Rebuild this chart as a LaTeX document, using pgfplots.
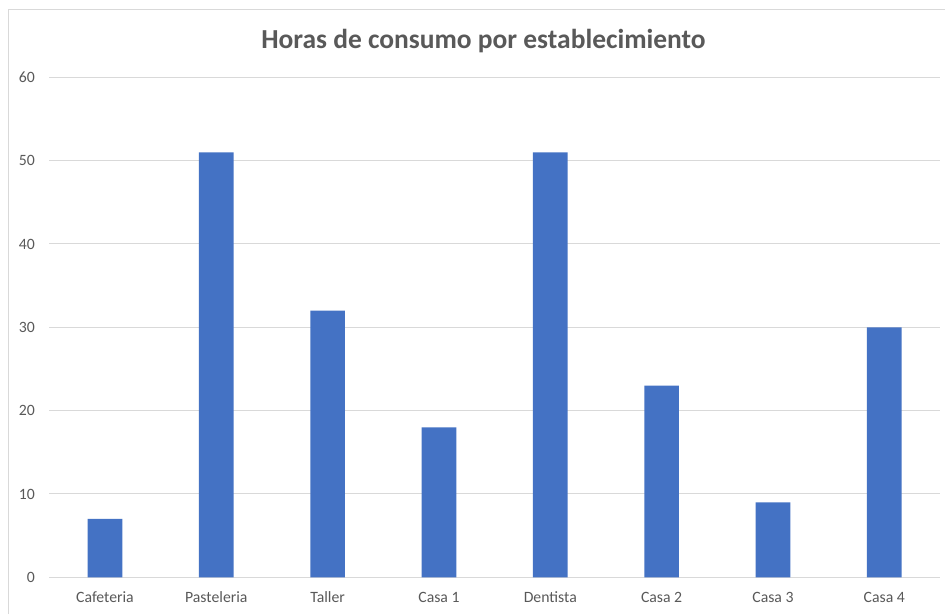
\documentclass[border=0pt]{standalone}
\usepackage{pgfplots}
\pgfplotsset{compat=1.18}
\usepackage{fontspec}
\setmainfont{Carlito}
\definecolor{barblue}{HTML}{4472C4}
\definecolor{txtgray}{HTML}{595959}
\definecolor{gridgray}{HTML}{D9D9D9}
\begin{document}
\begin{tikzpicture}
\path[use as bounding box] (0,0) rectangle (708.75pt,460.5pt);
\fill[white] (0,0) rectangle (708.75pt,460.5pt);
\draw[gridgray, line width=0.75pt] (6.375pt,0pt) -- (6.375pt,453.375pt) -- (708.75pt,453.375pt);
\node[anchor=base, text=txtgray, font=\fontsize{20.6}{24}\selectfont\bfseries] at (362.6pt,423.75pt) {Horas de consumo por establecimiento};
\begin{axis}[
  scale only axis,
  width=668pt, height=375pt,
  at={(36.975pt,27.525pt)}, anchor=south west,
  xmin=-0.5, xmax=7.5,
  ymin=0, ymax=60,
  ytick={0,10,...,60},
  xtick=data,
  xticklabels={Cafeteria,Pasteleria,Taller,Casa 1,Dentista,Casa 2,Casa 3,Casa 4},
  axis lines=left,
  axis line style={draw=none,-},
  major tick length=0pt,
  tick style={draw=none},
  ymajorgrids,
  grid style={gridgray, line width=0.75pt},
  /pgf/number format/assume math mode=true,
  tick label style={text=txtgray, font=\fontsize{11.8}{13}\selectfont},
  yticklabel style={anchor=east, inner sep=0pt, xshift=-10.7pt},
  xticklabel style={anchor=base, inner sep=0pt, yshift=-18.75pt},
  clip=false,
]
\addplot[ybar, bar width=26pt, fill=barblue, draw=none] coordinates {
  (0,7) (1,51) (2,32) (3,18) (4,51) (5,23) (6,9) (7,30)
};
\end{axis}
\end{tikzpicture}
\end{document}
